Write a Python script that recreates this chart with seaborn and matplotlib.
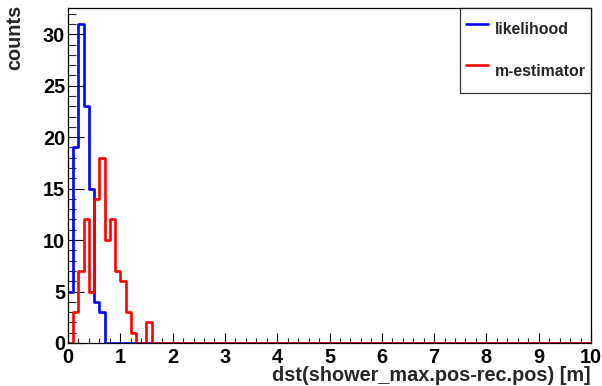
import numpy as np
import pandas as pd
import seaborn as sns
import matplotlib.pyplot as plt
from matplotlib.ticker import MultipleLocator

sns.set_theme(style="white")
plt.rcParams['font.family'] = ['Liberation Sans', 'DejaVu Sans']
plt.rcParams['font.weight'] = 'bold'

# histogram: 100 bins of 0.1 m from 0 to 10, counts
n_bins = 100
x_min, x_max = 0, 10
likelihood_counts = [5, 19, 31, 23, 15, 4, 3]
mestimator_counts = [0, 3, 7, 12, 5, 14, 18, 10, 12, 7, 6, 3, 1, 0, 0, 2]

edges = np.linspace(x_min, x_max, n_bins + 1)
centers = (edges[:-1] + edges[1:]) / 2
lik = np.zeros(n_bins)
lik[:len(likelihood_counts)] = likelihood_counts
mest = np.zeros(n_bins)
mest[:len(mestimator_counts)] = mestimator_counts
df_lik = pd.DataFrame({"dst": centers, "w": lik})
df_mest = pd.DataFrame({"dst": centers, "w": mest})

fig = plt.figure(figsize=(6.02, 3.86), dpi=100)
ax = fig.add_axes([68/602, 1-343/386, 523/602, 335/386])

sns.histplot(data=df_lik, x="dst", weights="w", bins=n_bins, binrange=(x_min, x_max),
             element="step", fill=False, color="#0000ff", linewidth=1.9, ax=ax,
             label="likelihood")
sns.histplot(data=df_mest, x="dst", weights="w", bins=n_bins, binrange=(x_min, x_max),
             element="step", fill=False, color="#ff0000", linewidth=1.9, ax=ax,
             label="m-estimator")

ax.set_xlim(0, 10)
ax.set_ylim(0, 32.55)

for s in ax.spines.values():
    s.set_color("black")
    s.set_linewidth(0.9)

ax.xaxis.set_major_locator(MultipleLocator(1))
ax.xaxis.set_minor_locator(MultipleLocator(0.2))
ax.yaxis.set_major_locator(MultipleLocator(5))
ax.yaxis.set_minor_locator(MultipleLocator(1))
ax.tick_params(axis="x", which="major", direction="in", length=7.2, width=0.8,
               labelsize=14.3, pad=3.5, bottom=True, colors="black")
ax.tick_params(axis="x", which="minor", direction="in", length=3.6, width=0.8, bottom=True)
ax.tick_params(axis="y", which="major", direction="in", length=11.3, width=0.8,
               labelsize=14.3, pad=2, left=True, colors="black")
ax.tick_params(axis="y", which="minor", direction="in", length=5.6, width=0.8, left=True)
for lbl in ax.get_xticklabels() + ax.get_yticklabels():
    lbl.set_fontweight("bold")

ax.set_xlabel("dst(shower_max.pos-rec.pos) [m]", fontsize=14.3, fontweight="bold",
              loc="right")
ax.xaxis.label.set_va("center")
ax.xaxis.set_label_coords(1.0, -0.0985)
ax.set_ylabel("counts", fontsize=14.3, fontweight="bold", loc="top")
ax.yaxis.label.set_va("center")
ax.yaxis.set_label_coords(-0.101, 1.009)

leg = ax.legend(loc="upper right", bbox_to_anchor=(1.0, 1.0), borderaxespad=0,
                fancybox=False, frameon=True, edgecolor="black",
                prop={"weight": "bold", "size": 11.4}, borderpad=0.35,
                handlelength=1.4, handletextpad=0.4, handleheight=2.75,
                labelspacing=0.59)
leg.get_frame().set_linewidth(0.9)

fig.savefig("out.png", dpi=100)
